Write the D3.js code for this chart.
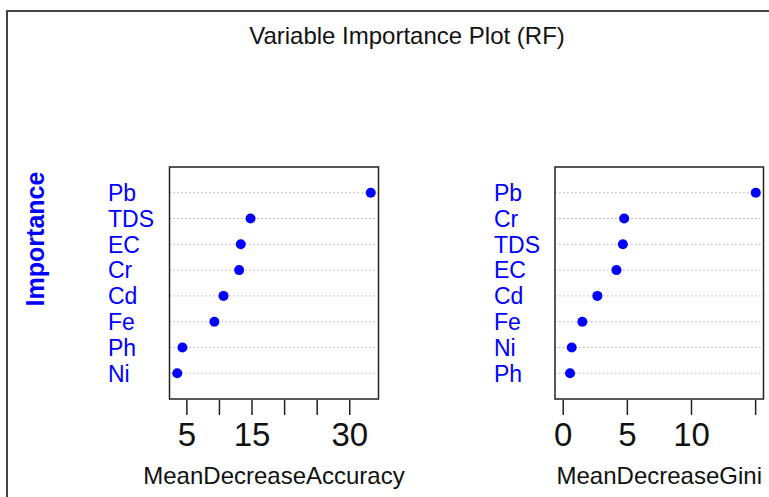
<!DOCTYPE html>
<html>
<head>
<meta charset="utf-8">
<script src="https://cdn.jsdelivr.net/npm/d3@7"></script>
<style>
  body { margin: 0; background: #fff; }
  text { font-family: "Liberation Sans", Arial, sans-serif; }
</style>
</head>
<body>
<div id="chart"></div>
<script>
// data (bottom row first, as in R's dotchart)
var accVars = ["Ni", "Ph", "Fe", "Cd", "Cr", "EC", "TDS", "Pb"];
var accValues = [3.6, 4.4, 9.3, 10.7, 13.1, 13.35, 14.85, 33.3];
var accTicks = [5, 10, 15, 20, 25, 30];
var accTickLabels = ["5", "", "15", "", "", "30"];

var giniVars = ["Ph", "Ni", "Fe", "Cd", "EC", "TDS", "Cr", "Pb"];
var giniValues = [0.57, 0.70, 1.53, 2.70, 4.19, 4.69, 4.79, 15.05];
var giniTicks = [0, 5, 10, 15];
var giniTickLabels = ["0", "5", "10", ""];

var svgWidth = 769;
var svgHeight = 497;

var svg = d3.select("#chart")
  .append("svg")
  .attr("width", svgWidth)
  .attr("height", svgHeight);

// outer frame (only top and left edges are inside the picture)
svg.append("path")
  .attr("d", "M7," + svgHeight + "V11H" + svgWidth)
  .attr("fill", "none")
  .attr("stroke", "#444")
  .attr("stroke-width", 2);

svg.append("text")
  .attr("x", 407)
  .attr("y", 44)
  .attr("text-anchor", "middle")
  .attr("font-size", 24)
  .attr("fill", "#111")
  .text("Variable Importance Plot (RF)");

svg.append("text")
  .attr("transform", "translate(44, 239) rotate(-90)")
  .attr("text-anchor", "middle")
  .attr("font-size", 25)
  .attr("font-weight", "bold")
  .attr("fill", "#0000ff")
  .text("Importance");

var boxTop = 167;
var boxBottom = 399;

// one dotchart panel
function dotPanel(vars, values, xmin, left, right, labelX, ticks, tickLabels, xlab) {
  var lo = xmin === null ? d3.min(values) : xmin;
  var hi = d3.max(values);
  var pad = (hi - lo) * 0.04;

  var x = d3.scaleLinear()
    .domain([lo - pad, hi + pad])
    .range([left, right]);

  var y = d3.scaleLinear()
    .domain([0, vars.length + 1])
    .range([boxBottom, boxTop]);

  var g = svg.append("g");

  // dotted guide lines
  g.selectAll("line.guide")
    .data(vars)
    .enter()
    .append("line")
    .attr("class", "guide")
    .attr("x1", left)
    .attr("x2", right)
    .attr("y1", (d, i) => y(i + 1))
    .attr("y2", (d, i) => y(i + 1))
    .attr("stroke", "#b0b0b0")
    .attr("stroke-width", 1)
    .attr("stroke-dasharray", "1.5,2.5");

  g.selectAll("circle")
    .data(values)
    .enter()
    .append("circle")
    .attr("cx", d => x(d))
    .attr("cy", (d, i) => y(i + 1))
    .attr("r", 5)
    .attr("fill", "#0000ff");

  // variable names, left aligned like R's dotchart
  g.selectAll("text.lab")
    .data(vars)
    .enter()
    .append("text")
    .attr("class", "lab")
    .attr("x", labelX)
    .attr("y", (d, i) => y(i + 1))
    .attr("dy", "0.36em")
    .attr("font-size", 23)
    .attr("fill", "#0000ff")
    .text(d => d);

  g.append("rect")
    .attr("x", left)
    .attr("y", boxTop)
    .attr("width", right - left)
    .attr("height", boxBottom - boxTop)
    .attr("fill", "none")
    .attr("stroke", "#222")
    .attr("stroke-width", 1.5);

  var axis = d3.axisBottom(x)
    .tickValues(ticks)
    .tickSize(15)
    .tickPadding(8)
    .tickFormat((d, i) => tickLabels[i]);

  var ax = g.append("g")
    .attr("transform", `translate(0, ${boxBottom + 1})`)
    .call(axis);
  ax.select(".domain").remove();
  ax.selectAll(".tick line").attr("stroke", "#222").attr("stroke-width", 1.5);
  ax.selectAll(".tick text")
    .attr("font-size", 33)
    .attr("font-family", "Liberation Sans, Arial, sans-serif")
    .attr("fill", "#111");

  g.append("text")
    .attr("x", (left + right) / 2)
    .attr("y", 484)
    .attr("text-anchor", "middle")
    .attr("font-size", 24)
    .attr("fill", "#111")
    .text(xlab);
}

dotPanel(accVars, accValues, null, 169.5, 378.5, 108, accTicks, accTickLabels, "MeanDecreaseAccuracy");
dotPanel(giniVars, giniValues, 0, 555, 763.5, 494, giniTicks, giniTickLabels, "MeanDecreaseGini");
</script>
</body>
</html>
